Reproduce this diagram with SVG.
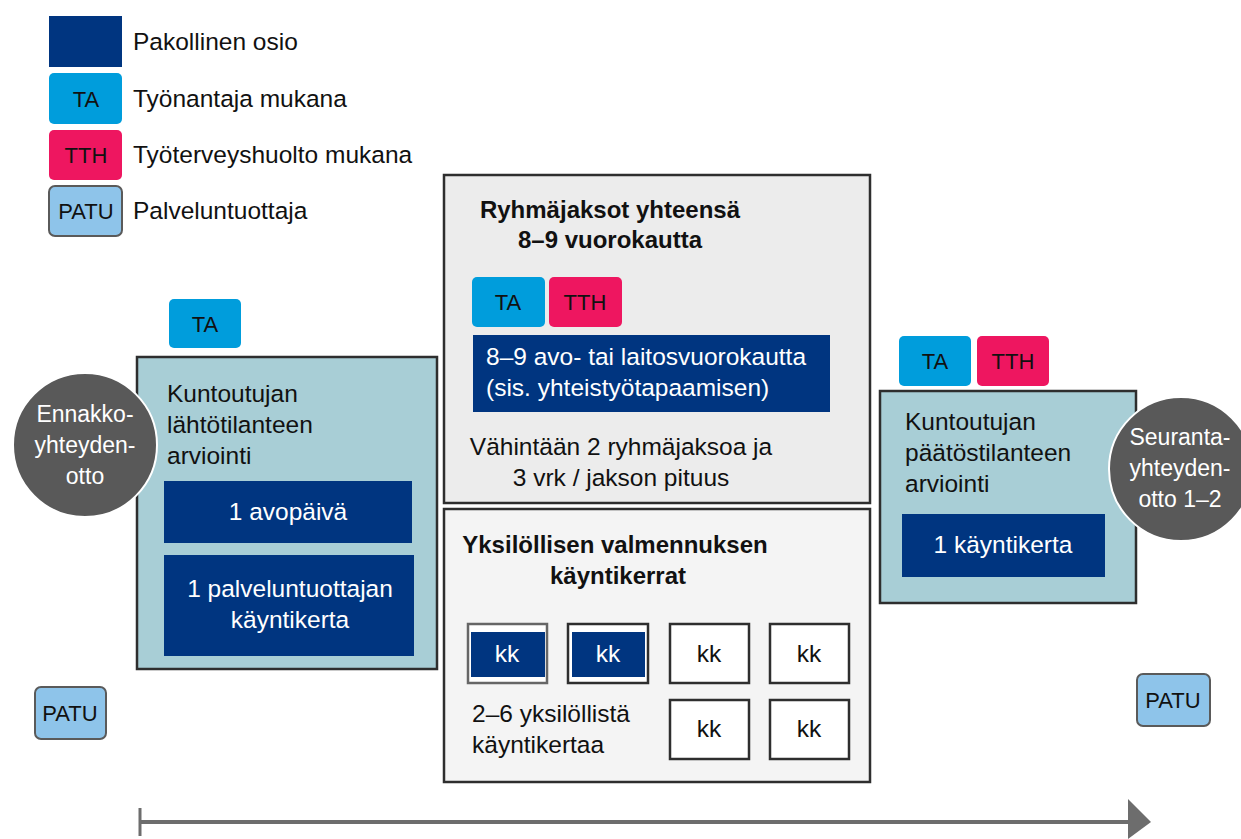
<svg xmlns="http://www.w3.org/2000/svg" width="1241" height="839" viewBox="0 0 1241 839">
<style>
text{font-family:"Liberation Sans",Arial,sans-serif;fill:#111;}
.t{font-size:24.5px;}
.w{fill:#fff;}
.c{text-anchor:middle;}
.b{font-weight:bold;font-size:24px;}
.ci{font-size:23px;}
.tag{font-family:"Liberation Sans Narrow","Liberation Sans",Arial,sans-serif;font-stretch:condensed;font-size:22px;text-anchor:middle;}
.navy{fill:#003580;}
.ta{fill:#009ddc;}
.tth{fill:#ee1660;}
.patu{fill:#8ec4ea;stroke:#5a5a5a;stroke-width:2;}
.panel{stroke:#2e2e2e;stroke-width:2.5;}
.kk{fill:#fff;stroke:#2e2e2e;stroke-width:2.5;}
.circ{fill:#595959;stroke:#fff;stroke-width:2;}
</style>

<g id="legend">
  <rect class="navy" x="49" y="16" width="73" height="51"/>
  <text class="t" x="133" y="50">Pakollinen osio</text>
  <rect class="ta" x="49" y="73" width="73" height="51" rx="5"/>
  <text class="tag" x="86" y="107">TA</text>
  <text class="t" x="133" y="107">Työnantaja mukana</text>
  <rect class="tth" x="49" y="130" width="73" height="50" rx="5"/>
  <text class="tag" x="86" y="163">TTH</text>
  <text class="t" x="133" y="163">Työterveyshuolto mukana</text>
  <rect class="patu" x="49" y="186" width="73" height="50" rx="6"/>
  <text class="tag" x="86" y="219">PATU</text>
  <text class="t" x="133" y="219">Palveluntuottaja</text>
</g>

<g id="connectors">
  <line x1="140" y1="822" x2="1132" y2="822" stroke="#6d6d6d" stroke-width="4"/>
  <line x1="140" y1="808" x2="140" y2="836" stroke="#6d6d6d" stroke-width="3"/>
  <polygon points="1128,799 1151,822 1128,839" fill="#6d6d6d"/>
</g>

<g id="ta-left">
  <rect class="ta" x="169" y="299" width="72" height="49" rx="5"/>
  <text class="tag" x="205" y="332">TA</text>
</g>

<g id="start-assessment">
  <rect class="panel" x="137" y="357" width="300" height="312" fill="#a8ced6"/>
  <text class="t" x="167" y="402">Kuntoutujan</text>
  <text class="t" x="167" y="433">lähtötilanteen</text>
  <text class="t" x="167" y="464">arviointi</text>
  <rect class="navy" x="164" y="481" width="248" height="62"/>
  <text class="t w c" x="288" y="520">1 avopäivä</text>
  <rect class="navy" x="164" y="555" width="250" height="101"/>
  <text class="t w c" x="290" y="597">1 palveluntuottajan</text>
  <text class="t w c" x="290" y="628">käyntikerta</text>
</g>

<g id="ennakko">
  <circle class="circ" cx="85" cy="445" r="72"/>
  <text class="ci w c" x="85" y="422">Ennakko-</text>
  <text class="ci w c" x="85" y="453">yhteyden-</text>
  <text class="ci w c" x="85" y="484">otto</text>
</g>

<g id="group-periods">
  <rect class="panel" x="444" y="175" width="426" height="328" fill="#ececec"/>
  <text class="b c" x="610" y="218">Ryhmäjaksot yhteensä</text>
  <text class="b c" x="610" y="248">8–9 vuorokautta</text>
  <rect class="ta" x="472" y="277" width="73" height="50" rx="5"/>
  <text class="tag" x="508" y="310">TA</text>
  <rect class="tth" x="549" y="277" width="73" height="50" rx="5"/>
  <text class="tag" x="585" y="310">TTH</text>
  <rect class="navy" x="473" y="335" width="357" height="77"/>
  <text class="t w" x="486" y="365">8–9 avo- tai laitosvuorokautta</text>
  <text class="t w" x="486" y="396">(sis. yhteistyötapaamisen)</text>
  <text class="t c" x="621" y="455">Vähintään 2 ryhmäjaksoa ja</text>
  <text class="t c" x="621" y="486">3 vrk / jakson pituus</text>
</g>

<g id="individual-visits">
  <rect class="panel" x="444" y="509" width="426" height="273" fill="#f4f4f4"/>
  <text class="b c" x="615" y="553">Yksilöllisen valmennuksen</text>
  <text class="b c" x="618" y="584">käyntikerrat</text>
  <rect x="468" y="624" width="79" height="59" fill="#fff" stroke="#666" stroke-width="2.5"/>
  <rect class="navy" x="471" y="632" width="74" height="45"/>
  <text class="t w c" x="507" y="662">kk</text>
  <rect class="kk" x="568" y="624" width="80" height="59"/>
  <rect class="navy" x="572" y="632" width="73" height="45"/>
  <text class="t w c" x="608" y="662">kk</text>
  <rect class="kk" x="670" y="624" width="79" height="59"/>
  <text class="t c" x="709" y="662">kk</text>
  <rect class="kk" x="770" y="624" width="79" height="59"/>
  <text class="t c" x="809" y="662">kk</text>
  <rect class="kk" x="670" y="700" width="79" height="59"/>
  <text class="t c" x="709" y="737">kk</text>
  <rect class="kk" x="770" y="700" width="79" height="59"/>
  <text class="t c" x="809" y="737">kk</text>
  <text class="t" x="472" y="722">2–6 yksilöllistä</text>
  <text class="t" x="472" y="753">käyntikertaa</text>
</g>

<g id="ta-tth-right">
  <rect class="ta" x="899" y="336" width="72" height="50" rx="5"/>
  <text class="tag" x="935" y="369">TA</text>
  <rect class="tth" x="977" y="336" width="72" height="50" rx="5"/>
  <text class="tag" x="1013" y="369">TTH</text>
</g>

<g id="end-assessment">
  <rect class="panel" x="880" y="391" width="256" height="212" fill="#a8ced6"/>
  <text class="t" x="905" y="430">Kuntoutujan</text>
  <text class="t" x="905" y="461">päätöstilanteen</text>
  <text class="t" x="905" y="492">arviointi</text>
  <rect class="navy" x="902" y="514" width="203" height="63"/>
  <text class="t w c" x="1003" y="553">1 käyntikerta</text>
</g>

<g id="seuranta">
  <circle class="circ" cx="1181" cy="469" r="72"/>
  <text class="ci w c" x="1180" y="445">Seuranta-</text>
  <text class="ci w c" x="1180" y="476">yhteyden-</text>
  <text class="ci w c" x="1180" y="507">otto 1–2</text>
</g>

<g id="patu-left">
  <rect class="patu" x="35" y="687" width="71" height="52" rx="6"/>
  <text class="tag" x="70" y="721">PATU</text>
</g>

<g id="patu-right">
  <rect class="patu" x="1137" y="674" width="73" height="52" rx="6"/>
  <text class="tag" x="1173" y="708">PATU</text>
</g>
</svg>
